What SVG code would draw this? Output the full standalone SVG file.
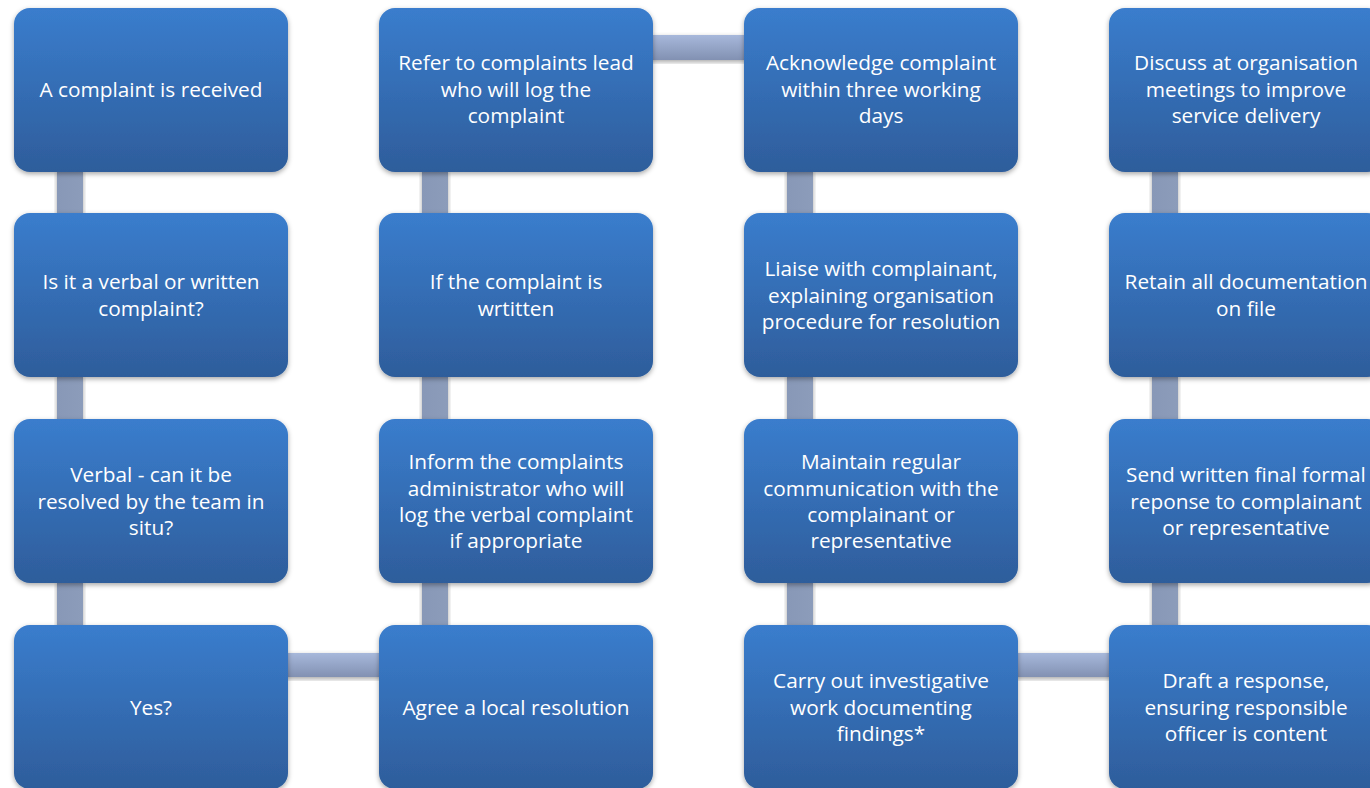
<svg xmlns="http://www.w3.org/2000/svg" width="1370" height="788" viewBox="0 0 1370 788">
<defs>
<linearGradient id="boxg" x1="0" y1="0" x2="0" y2="1">
<stop offset="0" stop-color="#3A7DCD"/>
<stop offset="1" stop-color="#2E5D9B"/>
</linearGradient>
<linearGradient id="hbar" x1="0" y1="0" x2="0" y2="1">
<stop offset="0" stop-color="#A7B8DB"/>
<stop offset="1" stop-color="#8291B2"/>
</linearGradient>
<linearGradient id="vbar" x1="0" y1="0" x2="1" y2="0">
<stop offset="0" stop-color="#8898B7"/>
<stop offset="1" stop-color="#8C9CBA"/>
</linearGradient>
<filter id="sh" x="-10%" y="-10%" width="120%" height="125%">
<feDropShadow dx="0" dy="2" stdDeviation="2.5" flood-color="#000" flood-opacity="0.35"/>
</filter>
</defs>
<style>
.box{fill:url(#boxg);filter:url(#sh)}
.h{fill:url(#hbar);filter:url(#sh)}
.v{fill:url(#vbar);filter:url(#sh)}
text{font-family:"Open Sans","Noto Sans",sans-serif;font-size:20.8px;fill:#fff;text-anchor:middle}
</style>
<rect width="1370" height="788" fill="#fff"/>
<g id="connectors">
<rect class="v" x="57" y="170" width="26" height="46"/>
<rect class="v" x="57" y="375" width="26" height="46"/>
<rect class="v" x="57" y="581" width="26" height="46"/>
<rect class="v" x="422" y="170" width="26" height="46"/>
<rect class="v" x="422" y="375" width="26" height="46"/>
<rect class="v" x="422" y="581" width="26" height="46"/>
<rect class="v" x="787" y="170" width="26" height="46"/>
<rect class="v" x="787" y="375" width="26" height="46"/>
<rect class="v" x="787" y="581" width="26" height="46"/>
<rect class="v" x="1152" y="170" width="26" height="46"/>
<rect class="v" x="1152" y="375" width="26" height="46"/>
<rect class="v" x="1152" y="581" width="26" height="46"/>
<rect class="h" x="650" y="35" width="97" height="25"/>
<rect class="h" x="285" y="653" width="97" height="24"/>
<rect class="h" x="1015" y="653" width="97" height="24"/>
</g>
<g id="n1"><rect class="box" x="14" y="8" width="274" height="164" rx="16"/><text x="151" y="97">A complaint is received</text></g>
<g id="n2"><rect class="box" x="379" y="8" width="274" height="164" rx="16"/><text x="516" y="70">Refer to complaints lead</text><text x="516" y="97">who will log the</text><text x="516" y="123">complaint</text></g>
<g id="n3"><rect class="box" x="744" y="8" width="274" height="164" rx="16"/><text x="881" y="70">Acknowledge complaint</text><text x="881" y="97">within three working</text><text x="881" y="123">days</text></g>
<g id="n4"><rect class="box" x="1109" y="8" width="274" height="164" rx="16"/><text x="1246" y="70">Discuss at organisation</text><text x="1246" y="97">meetings to improve</text><text x="1246" y="123">service delivery</text></g>
<g id="n5"><rect class="box" x="14" y="213" width="274" height="164" rx="16"/><text x="151" y="289">Is it a verbal or written</text><text x="151" y="316">complaint?</text></g>
<g id="n6"><rect class="box" x="379" y="213" width="274" height="164" rx="16"/><text x="516" y="289">If the complaint is</text><text x="516" y="316">wrtitten</text></g>
<g id="n7"><rect class="box" x="744" y="213" width="274" height="164" rx="16"/><text x="881" y="276">Liaise with complainant,</text><text x="881" y="303">explaining organisation</text><text x="881" y="329">procedure for resolution</text></g>
<g id="n8"><rect class="box" x="1109" y="213" width="274" height="164" rx="16"/><text x="1246" y="289">Retain all documentation</text><text x="1246" y="316">on file</text></g>
<g id="n9"><rect class="box" x="14" y="419" width="274" height="164" rx="16"/><text x="151" y="482">Verbal - can it be</text><text x="151" y="509">resolved by the team in</text><text x="151" y="535">situ?</text></g>
<g id="n10"><rect class="box" x="379" y="419" width="274" height="164" rx="16"/><text x="516" y="469">Inform the complaints</text><text x="516" y="496">administrator who will</text><text x="516" y="522">log the verbal complaint</text><text x="516" y="548">if appropriate</text></g>
<g id="n11"><rect class="box" x="744" y="419" width="274" height="164" rx="16"/><text x="881" y="469">Maintain regular</text><text x="881" y="496">communication with the</text><text x="881" y="522">complainant or</text><text x="881" y="548">representative</text></g>
<g id="n12"><rect class="box" x="1109" y="419" width="274" height="164" rx="16"/><text x="1246" y="482">Send written final formal</text><text x="1246" y="509">reponse to complainant</text><text x="1246" y="535">or representative</text></g>
<g id="n13"><rect class="box" x="14" y="625" width="274" height="164" rx="16"/><text x="151" y="715">Yes?</text></g>
<g id="n14"><rect class="box" x="379" y="625" width="274" height="164" rx="16"/><text x="516" y="715">Agree a local resolution</text></g>
<g id="n15"><rect class="box" x="744" y="625" width="274" height="164" rx="16"/><text x="881" y="688">Carry out investigative</text><text x="881" y="715">work documenting</text><text x="881" y="741">findings*</text></g>
<g id="n16"><rect class="box" x="1109" y="625" width="274" height="164" rx="16"/><text x="1246" y="688">Draft a response,</text><text x="1246" y="715">ensuring responsible</text><text x="1246" y="741">officer is content</text></g>
</svg>
